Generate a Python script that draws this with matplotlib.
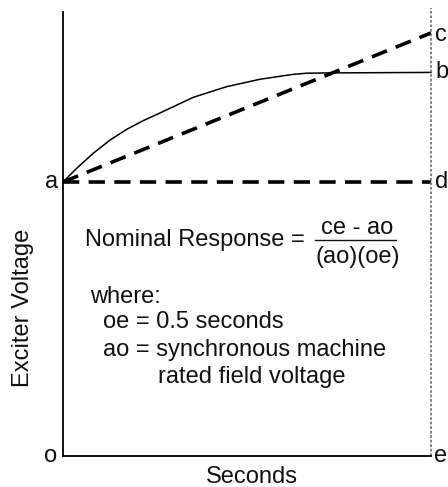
import matplotlib
matplotlib.use("Agg")
import matplotlib.pyplot as plt

# Data (time in seconds, voltage in units of ao)
t_curve = [0.0, 0.0186, 0.0412, 0.0639, 0.0865, 0.1091, 0.1318, 0.177, 0.2224,
           0.2677, 0.3129, 0.331, 0.358, 0.5]
v_curve = [1.0, 1.050, 1.105, 1.153, 1.192, 1.224, 1.252, 1.309, 1.348,
           1.375, 1.393, 1.397, 1.398, 1.400]
t_line = [0.0, 0.5]
v_line = [1.0, 1.544]
v_a = 1.0
t_end = 0.5

W, H = 448, 487
fig = plt.figure(figsize=(W/100, H/100), dpi=100)
plt.rcParams['font.family'] = ['Liberation Sans', 'DejaVu Sans']

def fx(px):
    return px / W
def fy(py):
    return 1 - py / H

left, right, top, bottom = 63, 431, 8, 456
ax = fig.add_axes([fx(left), fy(bottom), fx(right) - fx(left), fy(top) - fy(bottom)])
ax.set_xlim(0, 0.5)
ymax = (bottom - top) / 274.0
ax.set_ylim(0, ymax)
for s in ['top', 'right']:
    ax.spines[s].set_visible(False)
ax.spines['left'].set_bounds(0, (bottom - 12) / 274.0)
ax.spines['left'].set_linewidth(1.3)
ax.spines['bottom'].set_linewidth(1.3)
ax.set_xticks([])
ax.set_yticks([])

ax.plot(t_curve, v_curve, color='black', lw=1.1, clip_on=False)
ax.plot(t_line, v_line, color='black', lw=2.6, dashes=(4.5, 2.6), clip_on=False)
ax.plot([0, t_end], [v_a, v_a], color='black', lw=2.6, dashes=(4.5, 2.6), clip_on=False)
ax.plot([t_end, t_end], [0, ymax], color='#777777', lw=1.3, dashes=(1.5, 1.0), clip_on=False)

fs = 17
tc = '#111111'
fig.text(fx(45), fy(182), 'a', fontsize=fs, ha='left', va='center', color=tc)
fig.text(fx(44), fy(456), 'o', fontsize=fs, ha='left', va='center', color=tc)
fig.text(fx(435), fy(35), 'c', fontsize=fs, ha='left', va='center', color=tc)
fig.text(fx(435), fy(72), 'b', fontsize=fs, ha='left', va='center', color=tc)
fig.text(fx(435), fy(182), 'd', fontsize=fs, ha='left', va='center', color=tc)
fig.text(fx(447), fy(456), 'e', fontsize=fs, ha='right', va='center', color=tc)
fig.text(fx(252), fy(477), 'Seconds', fontsize=fs, ha='center', va='center', color=tc)
fig.text(fx(23), fy(308), 'Exciter Voltage', fontsize=fs, ha='center', va='center',
         rotation=90, color=tc)

fig.text(fx(85), fy(240), 'Nominal Response =', fontsize=fs, ha='left', va='center', color=tc)
fig.text(fx(357), fy(228), 'ce - ao', fontsize=fs, ha='center', va='center', color=tc)
fig.text(fx(358), fy(257), '(ao)(oe)', fontsize=fs, ha='center', va='center', color=tc)
fig.add_artist(plt.Line2D([fx(315), fx(396)], [fy(240), fy(240)], color=tc, lw=1.0))
fig.text(fx(90), fy(297), 'where:', fontsize=fs, ha='left', va='center', color=tc)
fig.text(fx(103), fy(322), 'oe = 0.5 seconds', fontsize=fs, ha='left', va='center', color=tc)
fig.text(fx(103), fy(350), 'ao = synchronous machine', fontsize=fs, ha='left', va='center', color=tc)
fig.text(fx(158), fy(377), 'rated field voltage', fontsize=fs, ha='left', va='center', color=tc)

fig.savefig('out.png', dpi=100)
